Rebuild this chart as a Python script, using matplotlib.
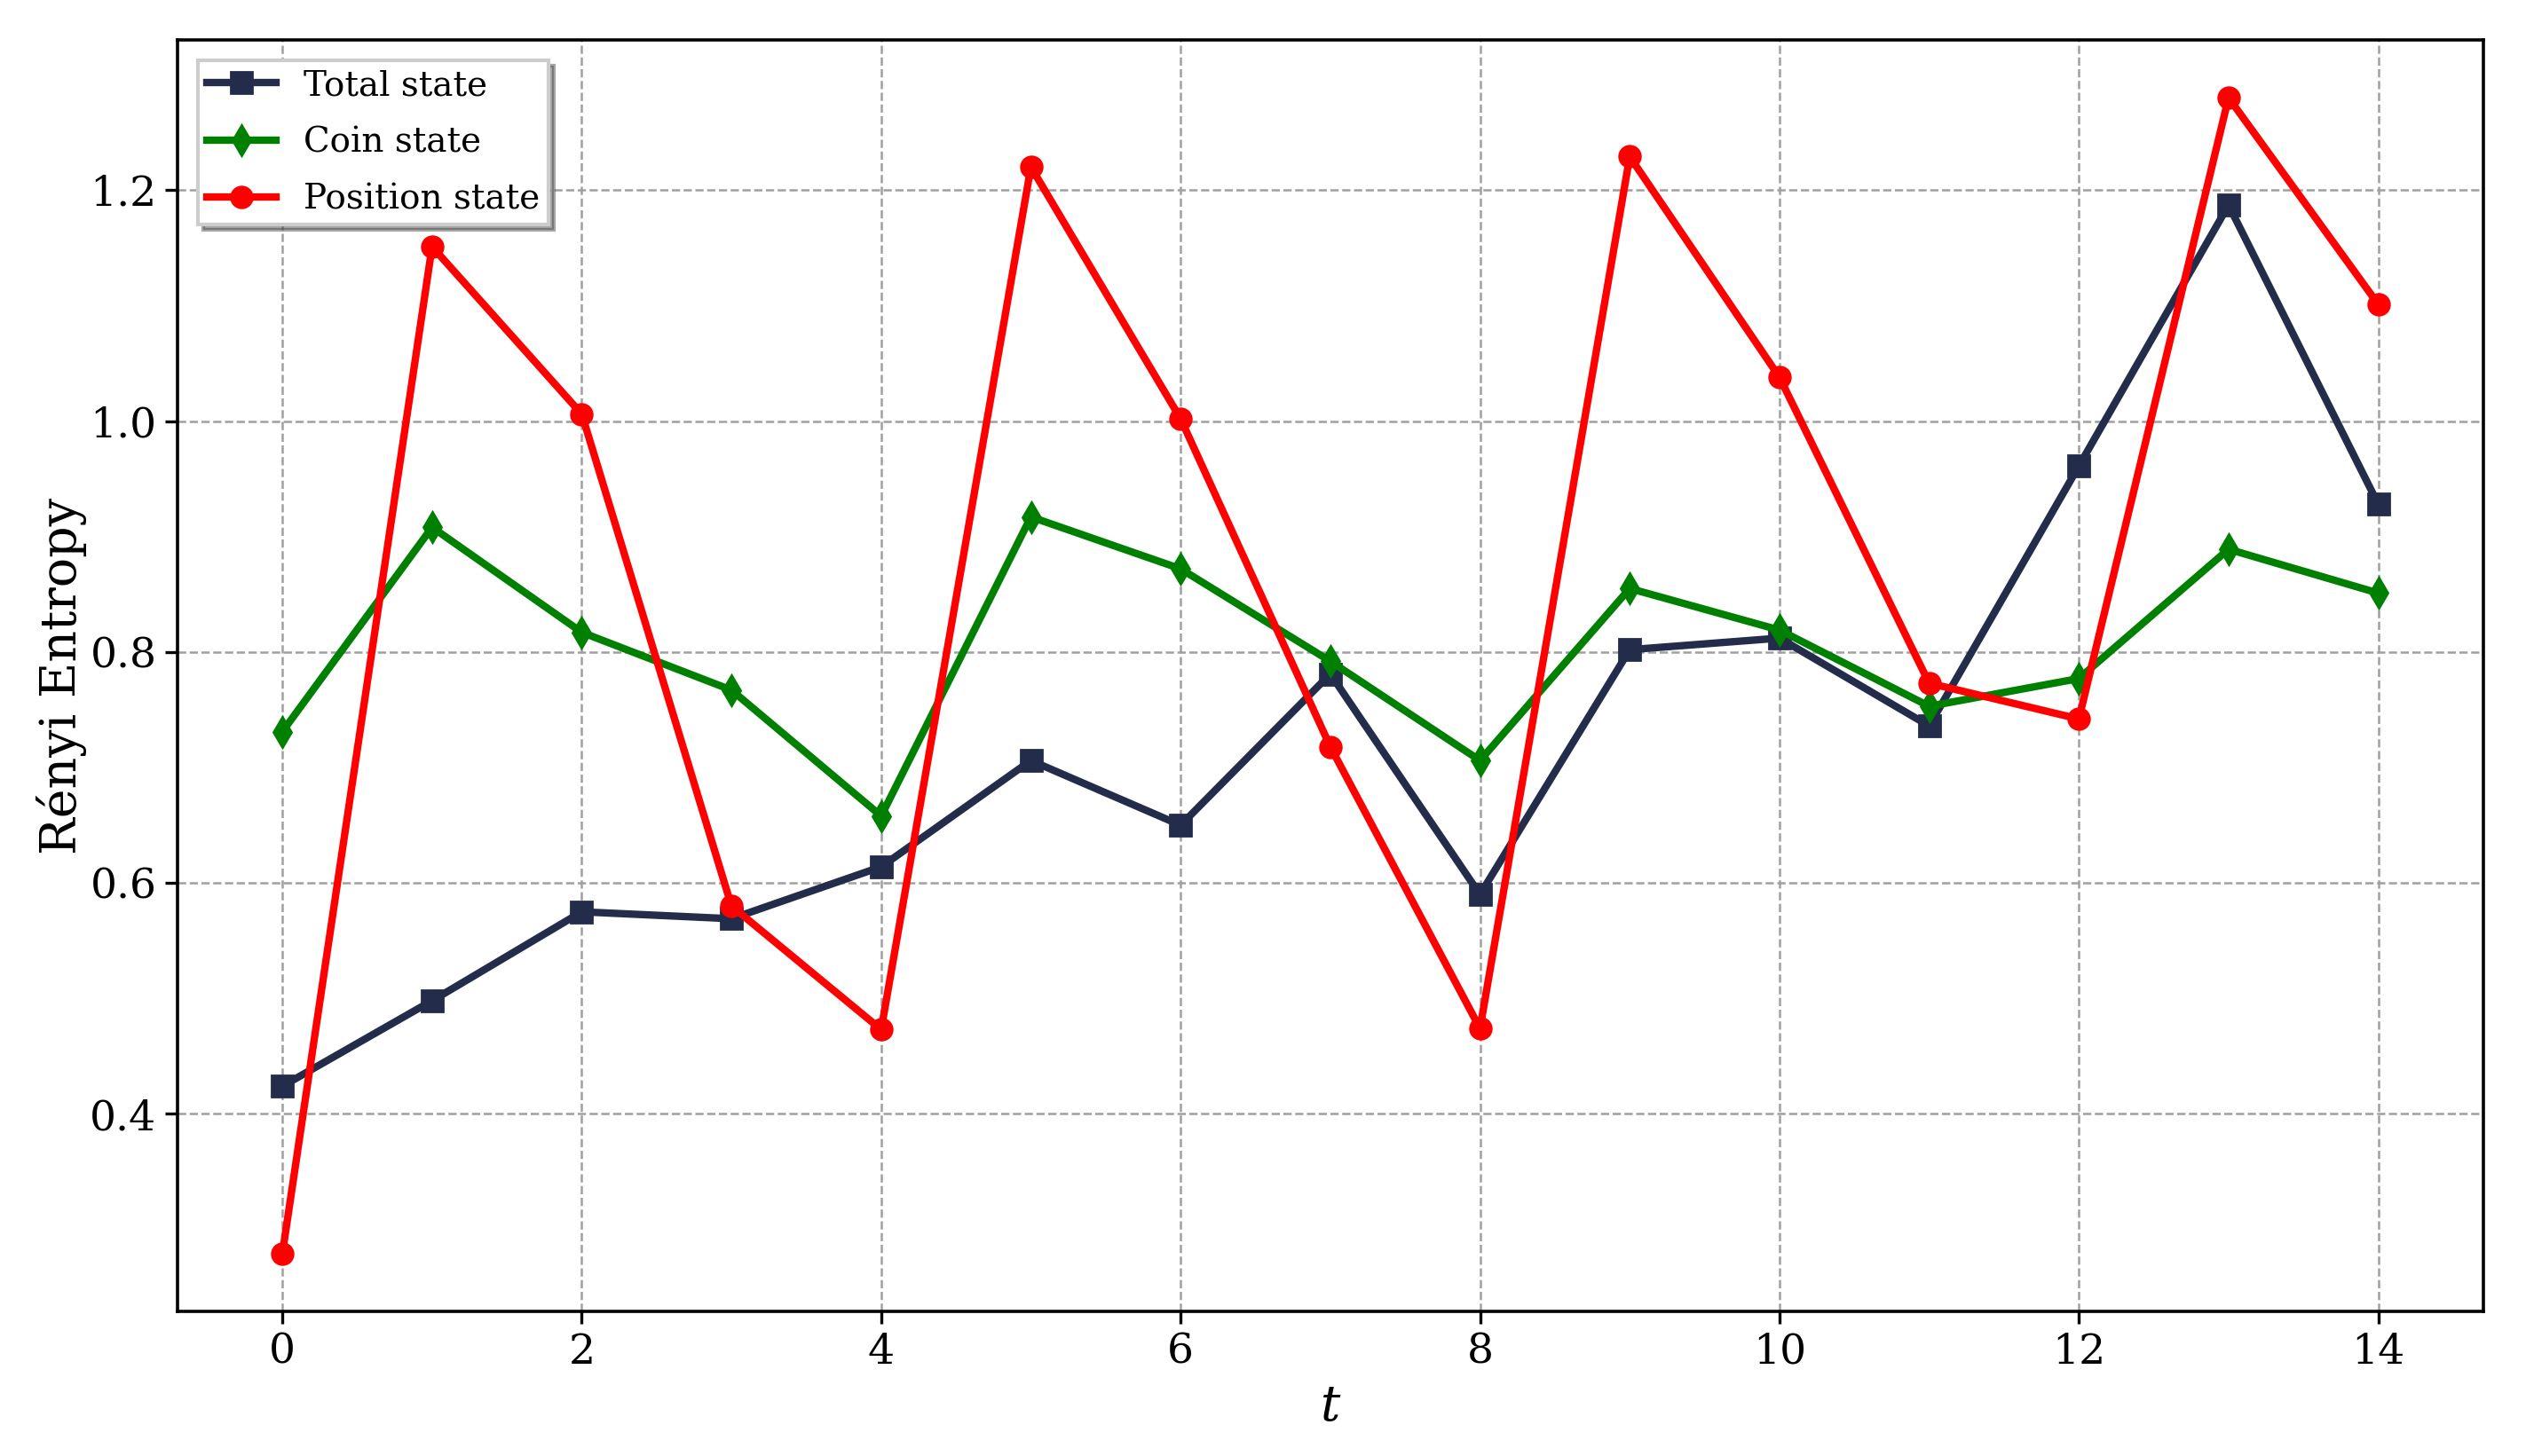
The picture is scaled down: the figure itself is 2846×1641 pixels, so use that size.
import matplotlib
matplotlib.use('Agg')
import matplotlib.pyplot as plt
import numpy as np

plt.rcParams['font.family'] = ['DejaVu Serif']
plt.rcParams['mathtext.fontset'] = 'dejavuserif'

t = np.arange(15)
total_state = [0.424, 0.498, 0.575, 0.569, 0.614, 0.706, 0.650, 0.781,
               0.590, 0.802, 0.812, 0.736, 0.961, 1.187, 0.928]
coin_state = [0.731, 0.908, 0.817, 0.767, 0.658, 0.917, 0.872, 0.792,
              0.706, 0.855, 0.819, 0.753, 0.777, 0.889, 0.851]
position_state = [0.279, 1.151, 1.006, 0.580, 0.473, 1.220, 1.002, 0.718,
                  0.474, 1.229, 1.038, 0.773, 0.742, 1.280, 1.101]

fig = plt.figure(figsize=(14.23, 8.205), dpi=200)
ax = fig.add_subplot(111)
fig.subplots_adjust(left=0.0703, right=0.983, bottom=0.0993, top=0.9726)

ax.plot(t, total_state, '-s', color='#232d4b', linewidth=3, markersize=8.5, label='Total state')
ax.plot(t, coin_state, '-d', color='green', linewidth=3, markersize=8.5, label='Coin state')
ax.plot(t, position_state, '-o', color='red', linewidth=3, markersize=8.5, label='Position state')

ax.grid(True, linestyle='--', color='#a0a0a0', linewidth=0.9)
ax.set_axisbelow(True)
for s in ax.spines.values():
    s.set_linewidth(1.3)
ax.tick_params(labelsize=17, length=5, width=1.2)
ax.set_xticks(np.arange(0, 15, 2))
ax.set_yticks([0.4, 0.6, 0.8, 1.0, 1.2])
ax.set_xlabel(r'$t$', fontsize=20)
ax.set_ylabel('Rényi Entropy', fontsize=20, labelpad=1)

leg = ax.legend(loc='upper left', fontsize=14, fancybox=False, shadow=True,
                framealpha=1, edgecolor='#cccccc', borderaxespad=0.6,
                borderpad=0.25, labelspacing=0.7, handlelength=2.0)
leg.get_frame().set_linewidth(1.5)

fig.savefig('out.png', dpi=200)
